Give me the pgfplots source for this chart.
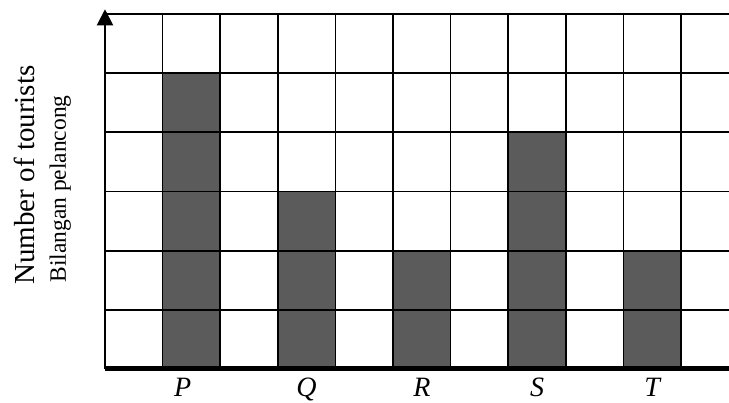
\documentclass[border=0pt]{standalone}
\usepackage{fontspec}
\setmainfont{Liberation Serif}
\usepackage{pgfplots}
\pgfplotsset{compat=1.18}
\usetikzlibrary{arrows.meta}
\definecolor{barfill}{HTML}{5B5B5B}
\begin{document}
\begin{tikzpicture}[catlabel/.style={anchor=base, yshift=-28pt, font=\fontsize{28}{30}\selectfont\itshape}]
\path[use as bounding box] (-105pt,-34pt) rectangle (624pt,369pt);
\begin{axis}[
  at={(0pt,0pt)}, anchor=south west,
  scale only axis, width=624pt, height=355pt,
  xmin=0, xmax=10.833, ymin=0, ymax=6,
  xtick={0,...,10}, ytick={0,...,6},
  xticklabels={}, yticklabels={},
  major tick length=0pt,
  grid=major, grid style={black, line width=1.7pt},
  axis x line*=bottom, axis y line*=left,
  x axis line style={line width=5pt, -},
  y axis line style={line width=2pt, -},
  axis on top, clip=false,
]
  \addplot[ybar, bar width=1, fill=barfill, draw=black, line width=1.5pt]
    coordinates {(1.5,5) (3.5,3) (5.5,2) (7.5,4) (9.5,2)};
  \draw[line width=2pt, -{Triangle[width=16pt,length=16pt]}]
    (axis cs:0,5.8) -- (axis cs:0,6.08);
  \node[catlabel] at (axis cs:1.35,0) {P};
  \node[catlabel] at (axis cs:3.5,0) {Q};
  \node[catlabel] at (axis cs:5.5,0) {R};
  \node[catlabel] at (axis cs:7.5,0) {S};
  \node[catlabel] at (axis cs:9.5,0) {T};
\end{axis}
\node[rotate=90, anchor=base, font=\fontsize{29}{32}\selectfont]
  at (-70pt,194pt) {Number of tourists};
\node[rotate=90, anchor=base, font=\fontsize{23.5}{26}\selectfont]
  at (-39pt,180pt) {Bilangan pelancong};
\end{tikzpicture}
\end{document}
